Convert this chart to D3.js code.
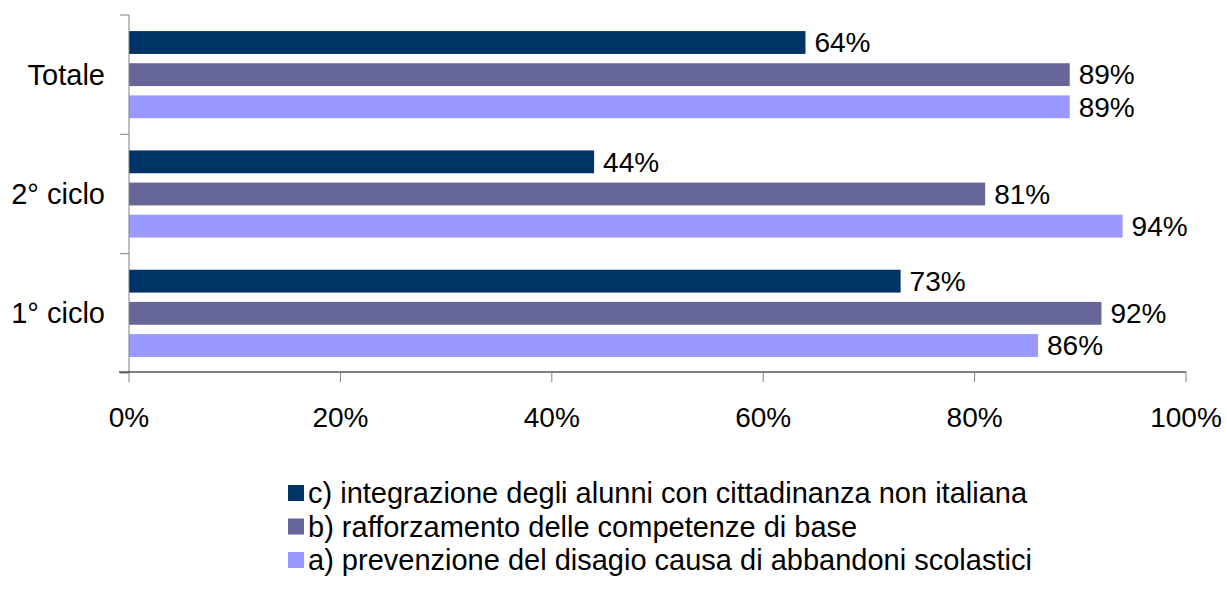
<!DOCTYPE html>
<html>
<head>
<meta charset="utf-8">
<script src="https://cdn.jsdelivr.net/npm/d3@7"></script>
<style>
  body { margin: 0; background: #fff; }
  svg text { font-family: "Liberation Sans", Arial, sans-serif; fill: #000; }
</style>
</head>
<body>
<script>
const categories = ["Totale", "2° ciclo", "1° ciclo"]
const seriesNames = [
  "c) integrazione degli alunni con cittadinanza non italiana",
  "b) rafforzamento delle competenze di base",
  "a) prevenzione del disagio causa di abbandoni scolastici"
]
const valuesC = [64, 44, 73]
const valuesB = [89, 81, 92]
const valuesA = [89, 94, 86]
const xTicks = [0, 20, 40, 60, 80, 100]
const colors = ["#003366", "#666699", "#9999ff"]

const width = 1227
const height = 591
const numSize = 28
const textSize = 29

const svg = d3.select('body').append('svg')
    .attr('width', width)
    .attr('height', height)

const x = d3.scaleLinear()
    .domain([0, 100])
    .range([129, 1186])

const y = d3.scaleBand()
    .domain(categories)
    .range([15, 373])

const inner = d3.scaleBand()
    .domain(d3.range(seriesNames.length))
    .range([0, y.bandwidth()])
    .paddingInner(0.29)
    .paddingOuter(0.5)

const allValues = [valuesC, valuesB, valuesA]

// bars
allValues.forEach((vals, s) => {
    const g = svg.append('g')
    g.selectAll('rect')
        .data(vals)
        .enter()
        .append('rect')
        .attr('x', x(0))
        .attr('y', (d, i) => y(categories[i]) + inner(s))
        .attr('width', d => x(d) - x(0))
        .attr('height', inner.bandwidth())
        .attr('fill', colors[s])
    g.selectAll('text')
        .data(vals)
        .enter()
        .append('text')
        .attr('x', d => x(d) + 9)
        .attr('y', (d, i) => y(categories[i]) + inner(s) + inner.bandwidth() / 2)
        .attr('dy', '0.35em')
        .attr('font-size', numSize)
        .text(d => d + '%')
})

// y axis
const yAxis = svg.append('g')
    .attr('transform', `translate(${x(0)},0)`)
yAxis.append('line')
    .attr('x1', 0).attr('x2', 0)
    .attr('y1', y.range()[0]).attr('y2', y.range()[1])
    .attr('stroke', '#808080')
const yBounds = categories.map(c => y(c)).concat([y.range()[1]])
yAxis.selectAll('line.tick')
    .data(yBounds)
    .enter()
    .append('line')
    .attr('class', 'tick')
    .attr('x1', -9).attr('x2', 0)
    .attr('y1', d => d).attr('y2', d => d)
    .attr('stroke', '#808080')
yAxis.selectAll('text')
    .data(categories)
    .enter()
    .append('text')
    .attr('x', -24)
    .attr('y', d => y(d) + y.bandwidth() / 2)
    .attr('dy', '0.35em')
    .attr('text-anchor', 'end')
    .attr('font-size', textSize)
    .text(d => d)

// x axis
const xAxis = svg.append('g')
    .attr('transform', `translate(0,${y.range()[1] - 1})`)
xAxis.append('line')
    .attr('x1', x(0) - 10).attr('x2', x(100))
    .attr('y1', 0).attr('y2', 0)
    .attr('stroke', '#000')
xAxis.selectAll('line.tick')
    .data(xTicks)
    .enter()
    .append('line')
    .attr('class', 'tick')
    .attr('x1', d => x(d)).attr('x2', d => x(d))
    .attr('y1', 0).attr('y2', 10)
    .attr('stroke', '#808080')
xAxis.selectAll('text')
    .data(xTicks)
    .enter()
    .append('text')
    .attr('x', d => x(d))
    .attr('y', 45)
    .attr('dy', '0.35em')
    .attr('text-anchor', 'middle')
    .attr('font-size', numSize)
    .text(d => d + '%')

// legend
const legend = svg.append('g')
    .attr('transform', 'translate(288,493)')
const items = legend.selectAll('g')
    .data(seriesNames)
    .enter()
    .append('g')
    .attr('transform', (d, i) => `translate(0,${i * 33.5})`)
items.append('rect')
    .attr('x', 0).attr('y', -8)
    .attr('width', 16).attr('height', 16)
    .attr('fill', (d, i) => colors[i])
items.append('text')
    .attr('x', 20)
    .attr('y', 0)
    .attr('dy', '0.35em')
    .attr('font-size', textSize)
    .text(d => d)
</script>
</body>
</html>
